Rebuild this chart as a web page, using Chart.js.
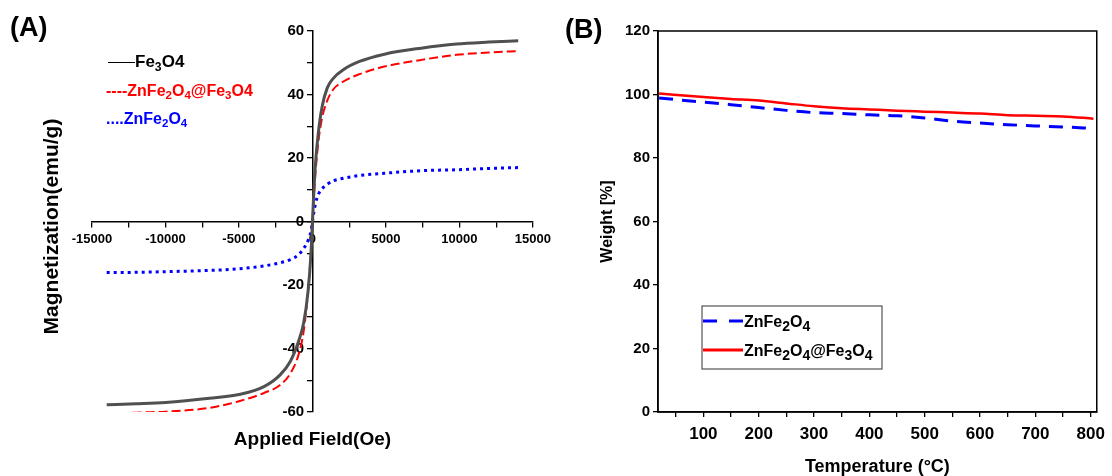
<!DOCTYPE html>
<html>
<head>
<meta charset="utf-8">
<script src="https://cdn.jsdelivr.net/npm/chart.js@4/dist/chart.umd.min.js"></script>
<style>
  body { margin: 0; background: #fff; font-family: "Liberation Sans", Arial, sans-serif; }
  #wrap { position: relative; width: 1112px; height: 476px; overflow: hidden; }
  .box { position: absolute; top: 0; width: 556px; height: 476px; }
  #boxA { left: 0; }
  #boxB { left: 556px; }
  .tag { position: absolute; font-weight: bold; font-size: 27px; line-height: 1; }
  .leg { position: absolute; font-weight: bold; white-space: nowrap; line-height: 1; }
  .leg sub { font-size: 72%; vertical-align: -0.3em; line-height: 0; }
</style>
</head>
<body>
<div id="wrap">
  <div class="box" id="boxA"><canvas id="chartA"></canvas></div>
  <div class="box" id="boxB"><canvas id="chartB"></canvas></div>
  <div class="tag" style="left:10px;top:14px">(A)</div>
  <div class="tag" style="left:565px;top:16px">(B)</div>
  <div class="leg" style="left:108px;top:53px;font-size:17px;color:#000"><span style="display:inline-block;width:27px;border-top:1.5px solid #000;vertical-align:middle"></span>Fe<sub>3</sub>O4</div>
  <div class="leg" style="left:106px;top:83px;font-size:16px;color:#f00">----ZnFe<sub>2</sub>O<sub>4</sub>@Fe<sub>3</sub>O4</div>
  <div class="leg" style="left:106px;top:111px;font-size:16px;color:#00f">....ZnFe<sub>2</sub>O<sub>4</sub></div>
</div>
<script>
// (A) magnetisation vs applied field
const fieldOe = [-14000, -12000, -10000, -7000, -5000, -3300, -2200, -1500, -950, -600, -300, -100, 0,
                 100, 200, 400, 650, 1000, 1400, 2100, 3200, 4900, 7400, 9800, 12000, 14000];
const magFe3O4 = [-57.7, -57.4, -57.0, -55.7, -54.5, -52.0, -48.3, -44.0, -37.8, -32.0, -22.0, -10.0, 0,
                  10.0, 18.0, 28.0, 36.0, 42.0, 45.0, 47.8, 50.4, 52.7, 54.6, 55.9, 56.5, 56.9];
const magCore = [-61.0, -60.2, -59.9, -58.7, -56.6, -54.0, -51.5, -47.8, -42.0, -34.6, -22.0, -9.0, 0,
                 8.0, 15.0, 25.0, 32.5, 38.0, 41.5, 44.1, 46.4, 48.8, 50.9, 52.5, 53.2, 53.7];
const magZnFe2O4 = [-16.1, -16.0, -15.8, -15.4, -14.9, -14.0, -13.0, -12.0, -10.5, -8.5, -6.0, -3.0, 0,
                    3.0, 5.5, 8.5, 10.3, 11.7, 12.8, 13.6, 14.5, 15.2, 16.0, 16.3, 16.7, 17.0];

// (B) TGA
const tempC = [20, 100, 150, 200, 250, 300, 350, 400, 450, 500, 550, 600, 650, 700, 750, 805];
const wZnFe2O4 = [98.9, 97.6, 96.8, 95.9, 95.0, 94.3, 94.0, 93.6, 93.3, 92.6, 91.6, 91.0, 90.5, 90.1, 89.8, 89.3];
const wCore = [100.3, 99.2, 98.6, 98.1, 97.2, 96.3, 95.7, 95.3, 94.9, 94.6, 94.3, 94.0, 93.5, 93.3, 93.1, 92.4];

const pts = (xs, ys) => xs.map((x, i) => ({ x: x, y: ys[i] }));
const bold = size => ({ family: '"Liberation Sans", Arial, sans-serif', size: size, weight: 'bold' });

// text with subscripts, "_2" means subscript 2
function chemText(ctx, str, x, y, size, subSize) {
  let cx = x;
  for (let i = 0; i < str.length; i++) {
    if (str[i] === '_') {
      i++;
      ctx.font = 'bold ' + subSize + 'px "Liberation Sans", Arial, sans-serif';
      ctx.fillText(str[i], cx, y + 4);
      cx += ctx.measureText(str[i]).width;
    } else {
      ctx.font = 'bold ' + size + 'px "Liberation Sans", Arial, sans-serif';
      ctx.fillText(str[i], cx, y);
      cx += ctx.measureText(str[i]).width;
    }
  }
}

const titlesA = {
  id: 'titlesA',
  afterDraw(chart) {
    const { ctx, chartArea } = chart;
    ctx.save();
    ctx.fillStyle = '#000';
    ctx.font = 'bold 19px "Liberation Sans", Arial, sans-serif';
    ctx.textAlign = 'center';
    ctx.textBaseline = 'middle';
    ctx.fillText('Applied Field(Oe)', (chartArea.left + chartArea.right) / 2, 440);
    ctx.translate(52, (chartArea.top + chartArea.bottom) / 2 + 5);
    ctx.rotate(-Math.PI / 2);
    ctx.font = 'bold 21px "Liberation Sans", Arial, sans-serif';
    ctx.fillText('Magnetization(emu/g)', 0, 0);
    ctx.restore();
  }
};

new Chart(document.getElementById('chartA'), {
  type: 'line',
  data: {
    datasets: [
      { label: 'Fe3O4', data: pts(fieldOe, magFe3O4), borderColor: '#505050', borderWidth: 3 },
      { label: 'ZnFe2O4@Fe3O4', data: pts(fieldOe, magCore), borderColor: '#ff0000', borderWidth: 2, borderDash: [9, 4] },
      { label: 'ZnFe2O4', data: pts(fieldOe, magZnFe2O4), borderColor: '#0000ff', borderWidth: 3, borderDash: [3, 4] }
    ]
  },
  options: {
    responsive: true,
    maintainAspectRatio: false,
    animation: false,
    layout: { padding: { left: 92, right: 19, top: 31, bottom: 64 } },
    elements: { point: { radius: 0 }, line: { cubicInterpolationMode: 'monotone' } },
    plugins: { legend: { display: false }, tooltip: { enabled: false } },
    scales: {
      x: {
        type: 'linear', min: -15000, max: 15000, position: { y: 0 },
        afterFit: s => { s.height = 0; },
        ticks: { stepSize: 2500, autoSkip: false, maxRotation: 0, color: '#000', font: bold(13), padding: 5,
                 callback: v => (v % 5000 === 0 ? String(v) : '') },
        grid: { drawOnChartArea: false, tickLength: 5, color: '#000', lineWidth: 1.3 },
        border: { color: '#000', width: 1.5 }
      },
      y: {
        type: 'linear', min: -60, max: 60, position: { x: 0 },
        afterFit: s => { s.width = 0; },
        // trailing spaces keep the labels clear of the tick marks
        ticks: { stepSize: 10, autoSkip: false, color: '#000', font: bold(15),
                 callback: v => (v % 20 === 0 ? v + '  ' : '') },
        grid: { drawOnChartArea: false, tickLength: 5, color: '#000', lineWidth: 1.3 },
        border: { color: '#000', width: 1.5 }
      }
    }
  },
  plugins: [titlesA]
});

const frameB = {
  id: 'frameB',
  afterDraw(chart) {
    const { ctx, chartArea: a } = chart;
    ctx.save();
    ctx.strokeStyle = '#000';
    ctx.lineWidth = 1.5;
    ctx.strokeRect(a.left, a.top, a.right - a.left, a.bottom - a.top);
    // legend box
    const lx = a.left + 44, ly = a.top + 275;
    ctx.lineWidth = 1;
    ctx.strokeStyle = '#333';
    ctx.strokeRect(lx, ly, 180, 63);
    ctx.lineWidth = 3;
    ctx.strokeStyle = '#0000ff';
    ctx.setLineDash([14, 12]);
    ctx.beginPath(); ctx.moveTo(lx + 1, ly + 15); ctx.lineTo(lx + 41, ly + 15); ctx.stroke();
    ctx.setLineDash([]);
    ctx.strokeStyle = '#ff0000';
    ctx.beginPath(); ctx.moveTo(lx + 1, ly + 44); ctx.lineTo(lx + 41, ly + 44); ctx.stroke();
    ctx.fillStyle = '#000';
    ctx.textBaseline = 'alphabetic';
    chemText(ctx, 'ZnFe_2O_4', lx + 42, ly + 21, 16, 14);
    chemText(ctx, 'ZnFe_2O_4@Fe_3O_4', lx + 42, ly + 50, 16, 14);
    ctx.restore();
  }
};

new Chart(document.getElementById('chartB'), {
  type: 'line',
  data: {
    datasets: [
      { label: 'ZnFe2O4', data: pts(tempC, wZnFe2O4), borderColor: '#0000ff', borderWidth: 3, borderDash: [14, 9] },
      { label: 'ZnFe2O4@Fe3O4', data: pts(tempC, wCore), borderColor: '#ff0000', borderWidth: 2.5 }
    ]
  },
  options: {
    responsive: true,
    maintainAspectRatio: false,
    animation: false,
    layout: { padding: { left: 0, right: 10, top: 31, bottom: 0 } },
    elements: { point: { radius: 0 }, line: { cubicInterpolationMode: 'monotone' } },
    plugins: { legend: { display: false }, tooltip: { enabled: false } },
    scales: {
      x: {
        type: 'linear', min: 18, max: 811, position: 'bottom',
        afterFit: s => { s.height = 64; },
        ticks: { stepSize: 50, includeBounds: false, autoSkip: false, maxRotation: 0, color: '#000', font: bold(17), padding: 7,
                 callback: v => (v % 100 === 0 ? String(v) : '') },
        grid: { drawOnChartArea: false, tickLength: 5, color: '#000', lineWidth: 1.3 },
        border: { color: '#000', width: 1.5 },
        title: { display: true, text: 'Temperature (°C)', color: '#000', font: bold(18), padding: { top: 0, bottom: -2 } }
      },
      y: {
        type: 'linear', min: 0, max: 120, position: 'left',
        afterFit: s => { s.width = 102; },
        ticks: { stepSize: 20, color: '#000', font: bold(15), padding: 3 },
        grid: { drawOnChartArea: false, tickLength: 5, color: '#000', lineWidth: 1.3 },
        border: { color: '#000', width: 1.5 },
        title: { display: true, text: 'Weight [%]', color: '#000', font: bold(16), padding: { top: 42, bottom: 0 } }
      }
    }
  },
  plugins: [frameB]
});
</script>
</body>
</html>
